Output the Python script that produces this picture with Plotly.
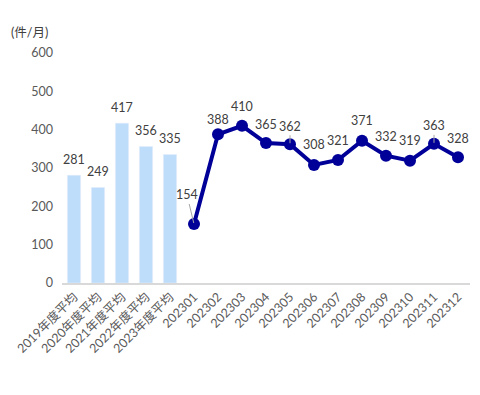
import plotly.graph_objects as go

bar_cats = ["2019年度平均", "2020年度平均", "2021年度平均", "2022年度平均", "2023年度平均"]
bar_vals = [281, 249, 417, 356, 335]
line_cats = ["202301", "202302", "202303", "202304", "202305", "202306",
             "202307", "202308", "202309", "202310", "202311", "202312"]
line_vals = [154, 388, 410, 365, 362, 308, 321, 371, 332, 319, 363, 328]
# label offsets in pixels and leader-line flags (style only)
line_label_dx = [-7, 0, 0, 0, 0, 0, 0, 0, 0, 0, 0, 0]
line_label_dy = [29, 15, 19, 19, 18, 20, 19, 20, 19, 20, 18, 19]
line_label_leader = [True, False, False, False, True, False, False, False, False, False, True, False]

FONT = "Lato, 'Noto Sans CJK JP', sans-serif"
LBL = dict(size=12.5, color="#404040", family=FONT)
all_cats = bar_cats + line_cats

fig = go.Figure()
fig.add_trace(go.Bar(
    x=bar_cats, y=bar_vals, marker_color="#BDDDFB", width=0.55,
    hoverinfo="skip",
))
fig.add_trace(go.Scatter(
    x=line_cats, y=line_vals, mode="lines+markers",
    line=dict(color="#000099", width=4), marker=dict(size=12, color="#000099"),
    cliponaxis=False,
))

annotations = []
for c, v in zip(bar_cats, bar_vals):
    annotations.append(dict(x=all_cats.index(c), y=v, text=str(v), showarrow=False, yshift=16,
                            xanchor="center", yanchor="middle", font=LBL))
for c, v, dx, dy, lead in zip(line_cats, line_vals, line_label_dx, line_label_dy, line_label_leader):
    if lead:
        annotations.append(dict(x=all_cats.index(c), y=v, text=str(v), showarrow=True,
                                arrowhead=0, arrowwidth=1, arrowcolor="#A6A6A6",
                                ax=dx, ay=-dy, standoff=1, font=LBL))
    else:
        annotations.append(dict(x=all_cats.index(c), y=v, text=str(v), showarrow=False,
                                xshift=dx, yshift=dy,
                                xanchor="center", yanchor="middle", font=LBL))
annotations.append(dict(text="(件/月)", xref="paper", yref="paper", x=-0.13, y=1.087,
                        xanchor="left", yanchor="middle", showarrow=False,
                        font=dict(size=12.5, color="#404040", family=FONT)))

# page body adds an 8px offset; size figure so it ends at the window edge
fig.update_layout(
    width=472, height=387, showlegend=False,
    margin=dict(l=54, r=10, t=45, b=112, autoexpand=False),
    paper_bgcolor="white", plot_bgcolor="white",
    font=dict(family=FONT, color="#595959"),
    xaxis=dict(categoryorder="array", categoryarray=all_cats, range=[-0.5, 16.5],
               tickangle=-45, tickfont=dict(size=12.5, color="#595959"),
               showline=True, linecolor="#D9D9D9", linewidth=1.5, showgrid=False, ticks=""),
    yaxis=dict(range=[0, 600], dtick=100, showgrid=False, zeroline=False,
               tickfont=dict(size=12.5, color="#595959"), ticks="", ticklabelstandoff=8),
    annotations=annotations,
)
fig.write_html("out.html")
